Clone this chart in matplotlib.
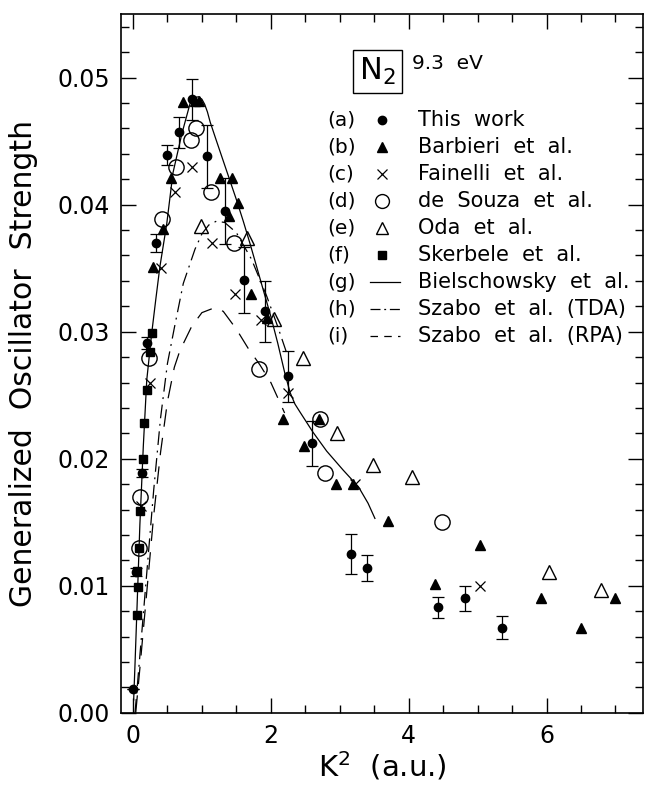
import matplotlib
matplotlib.use("Agg")
import matplotlib.pyplot as plt
from matplotlib.ticker import MultipleLocator, FormatStrFormatter

# (a) This work, with error bars
this_x = [0.0, 0.05, 0.135, 0.20, 0.34, 0.49, 0.67, 0.86, 1.08, 1.34, 1.61, 1.91,
          2.25, 2.60, 3.16, 3.40, 4.42, 4.82, 5.36]
this_y = [0.0019, 0.0111, 0.0189, 0.0291, 0.0370, 0.0439, 0.0457, 0.0483, 0.0438,
          0.0395, 0.0341, 0.0316, 0.0265, 0.0212, 0.0125, 0.0114, 0.0083, 0.0090, 0.0067]
this_err = [0.0, 0.0003, 0.0003, 0.0005, 0.0007, 0.0008, 0.0012, 0.0016, 0.0025,
            0.0026, 0.0026, 0.0024, 0.0020, 0.0018, 0.0016, 0.0010, 0.0008, 0.0010, 0.0009]

# (b) Barbieri et al.
barb_x = [0.29, 0.43, 0.55, 0.73, 0.90, 0.96, 1.26, 1.40, 1.44, 1.53, 1.71, 1.94,
          2.18, 2.48, 2.70, 2.94, 3.19, 3.70, 4.38, 5.03, 5.92, 6.50, 7.00]
barb_y = [0.0351, 0.0381, 0.0421, 0.0481, 0.0482, 0.0482, 0.0421, 0.0391, 0.0421,
          0.0401, 0.0330, 0.0311, 0.0231, 0.0210, 0.0231, 0.0180, 0.0180, 0.0151,
          0.0101, 0.0132, 0.0090, 0.0067, 0.0090]

# (c) Fainelli et al.
fain_x = [0.12, 0.24, 0.41, 0.61, 0.86, 1.15, 1.48, 1.86, 2.25, 3.22, 5.03]
fain_y = [0.0163, 0.0260, 0.0350, 0.0410, 0.0430, 0.0370, 0.0330, 0.0309, 0.0252,
          0.0180, 0.0100]

# (d) de Souza et al.
souza_x = [0.087, 0.10, 0.23, 0.42, 0.63, 0.84, 0.92, 1.13, 1.47, 1.83, 2.71, 2.78, 4.48]
souza_y = [0.0130, 0.0170, 0.0279, 0.0389, 0.0430, 0.0451, 0.0460, 0.0410, 0.0370,
           0.0271, 0.0231, 0.0189, 0.0150]

# (e) Oda et al.
oda_x = [0.99, 1.66, 2.04, 2.47, 2.96, 3.48, 4.05, 6.04, 6.79]
oda_y = [0.0383, 0.0374, 0.0310, 0.0279, 0.0220, 0.0195, 0.0186, 0.0111, 0.0097]

# (f) Skerbele et al.
sker_x = [0.053, 0.068, 0.063, 0.087, 0.106, 0.14, 0.165, 0.21, 0.24, 0.27]
sker_y = [0.0077, 0.0099, 0.0112, 0.0130, 0.0159, 0.0200, 0.0228, 0.0254, 0.0284, 0.0299]

# (g) Bielschowsky et al. (solid curve)
biel_x = [0.01, 0.03, 0.06, 0.10, 0.15, 0.20, 0.27, 0.33, 0.39, 0.49, 0.58, 0.71,
          0.83, 0.89, 0.95, 1.00, 1.04, 1.08, 1.12, 1.20, 1.30, 1.40, 1.50, 1.60,
          1.70, 1.80, 1.90, 2.00, 2.10, 2.20, 2.28, 2.35, 2.42, 2.61, 2.81, 3.05,
          3.27, 3.41, 3.51]
biel_y = [0.0010, 0.0039, 0.0085, 0.0148, 0.0210, 0.0262, 0.0298, 0.0325, 0.0351,
          0.0385, 0.0425, 0.0456, 0.0480, 0.0484, 0.0485, 0.0483, 0.0479, 0.0473,
          0.0465, 0.0452, 0.0436, 0.0420, 0.0404, 0.0387, 0.0369, 0.0350, 0.0331,
          0.0312, 0.0291, 0.0268, 0.0252, 0.0243, 0.0237, 0.0221, 0.0206, 0.0191,
          0.0178, 0.0165, 0.0153]

# (h) Szabo et al. (TDA)
tda_x = [0.03, 0.10, 0.20, 0.30, 0.40, 0.50, 0.60, 0.73, 0.90, 1.00, 1.10, 1.21,
         1.33, 1.50, 1.72, 1.94, 2.10, 2.25]
tda_y = [0.0, 0.0045, 0.0110, 0.0175, 0.0232, 0.0275, 0.0303, 0.0338, 0.0365,
         0.0377, 0.0384, 0.0387, 0.0386, 0.0378, 0.0357, 0.0328, 0.0304, 0.0280]

# (i) Szabo et al. (RPA)
rpa_x = [0.04, 0.10, 0.20, 0.30, 0.40, 0.50, 0.60, 0.68, 0.85, 1.00, 1.19, 1.31,
         1.50, 1.67, 1.84, 2.00, 2.20]
rpa_y = [0.0, 0.0035, 0.0095, 0.0155, 0.0205, 0.0245, 0.0272, 0.0285, 0.0304,
         0.0315, 0.0319, 0.0316, 0.0302, 0.0287, 0.0274, 0.0260, 0.0236]

legend_tags = ['(a)', '(b)', '(c)', '(d)', '(e)', '(f)', '(g)', '(h)', '(i)']
legend_names = ['This  work', 'Barbieri  et  al.', 'Fainelli  et  al.',
                'de  Souza  et  al.', 'Oda  et  al.', 'Skerbele  et  al.',
                'Bielschowsky  et  al.', 'Szabo  et  al.  (TDA)',
                'Szabo  et  al.  (RPA)']

plt.rcParams['font.family'] = ['DejaVu Sans']

fig = plt.figure(figsize=(6.45, 7.85), dpi=100)
ax = fig.add_axes([0.188, 0.092, 0.809, 0.890])

lw = 0.9
tda_dash = [11, 4.5, 1.5, 4.5]
rpa_dash = [14, 9]
ax.plot(biel_x, biel_y, '-', color='k', lw=lw)
ax.plot(tda_x, tda_y, color='k', lw=lw, dashes=tda_dash)
ax.plot(rpa_x, rpa_y, color='k', lw=lw, dashes=rpa_dash)

ax.errorbar(this_x, this_y, yerr=this_err, fmt='o', color='k', ms=6,
            capsize=4, elinewidth=0.9, capthick=0.9)
ax.plot(barb_x, barb_y, '^', color='k', ms=7, ls='none')
ax.plot(fain_x, fain_y, 'x', color='k', ms=7.5, mew=0.9, ls='none')
ax.plot(souza_x, souza_y, 'o', mfc='none', mec='k', ms=11, mew=1.0, ls='none')
ax.plot(oda_x, oda_y, '^', mfc='none', mec='k', ms=10, mew=1.0, ls='none')
ax.plot(sker_x, sker_y, 's', color='k', ms=5.5, ls='none')

ax.set_xlim(-0.17, 7.4)
ax.set_ylim(0.0, 0.055)
ax.xaxis.set_major_locator(MultipleLocator(2))
ax.xaxis.set_minor_locator(MultipleLocator(0.5))
ax.yaxis.set_major_locator(MultipleLocator(0.01))
ax.yaxis.set_minor_locator(MultipleLocator(0.002))
ax.xaxis.set_major_formatter(FormatStrFormatter('%d'))
ax.yaxis.set_major_formatter(FormatStrFormatter('%.2f'))
ax.tick_params(which='both', direction='in', top=True, right=True, width=1.0,
               labelsize=17, pad=8)
ax.tick_params(which='major', length=11)
ax.tick_params(which='minor', length=6)
for s in ax.spines.values():
    s.set_linewidth(1.2)

ax.set_ylabel('Generalized  Oscillator  Strength', fontsize=21.5)
ax.yaxis.set_label_coords(-0.16, 0.5)
ax.set_xlabel('K$^2$  (a.u.)', fontsize=21)
ax.xaxis.set_label_coords(0.5, -0.052)

# legend block
ax.text(0.491, 0.918, 'N$_2$', transform=ax.transAxes, fontsize=22,
        ha='center', va='center',
        bbox=dict(boxstyle='square,pad=0.2', fc='white', ec='k', lw=1.0))
ax.text(0.557, 0.929, '9.3  eV', transform=ax.transAxes, fontsize=14.5,
        ha='left', va='center')

row0 = 0.848
step = 27 / 699
mx = 0.5
styles = [dict(marker='o', color='k', ms=6),
          dict(marker='^', color='k', ms=7),
          dict(marker='x', color='k', ms=7, mew=0.9),
          dict(marker='o', mfc='none', mec='k', ms=10, mew=1.0),
          dict(marker='^', mfc='none', mec='k', ms=9, mew=1.0),
          dict(marker='s', color='k', ms=5.5)]
for i, (tag, name) in enumerate(zip(legend_tags, legend_names)):
    y = row0 - i * step
    ax.text(0.395, y, tag, transform=ax.transAxes, fontsize=14.5, ha='left', va='center')
    ax.text(0.569, y, name, transform=ax.transAxes, fontsize=15, ha='left', va='center')
    if i < 6:
        ax.plot([mx], [y], transform=ax.transAxes, ls='none', clip_on=False, **styles[i])
    elif i == 6:
        ax.plot([0.477, 0.534], [y, y], transform=ax.transAxes, color='k', lw=lw)
    elif i == 7:
        ax.plot([0.477, 0.534], [y, y], transform=ax.transAxes, color='k', lw=lw,
                dashes=[8, 3, 1.5, 3])
    else:
        ax.plot([0.477, 0.534], [y, y], transform=ax.transAxes, color='k', lw=lw,
                dashes=[6, 5])

fig.savefig('out.png', dpi=100)
